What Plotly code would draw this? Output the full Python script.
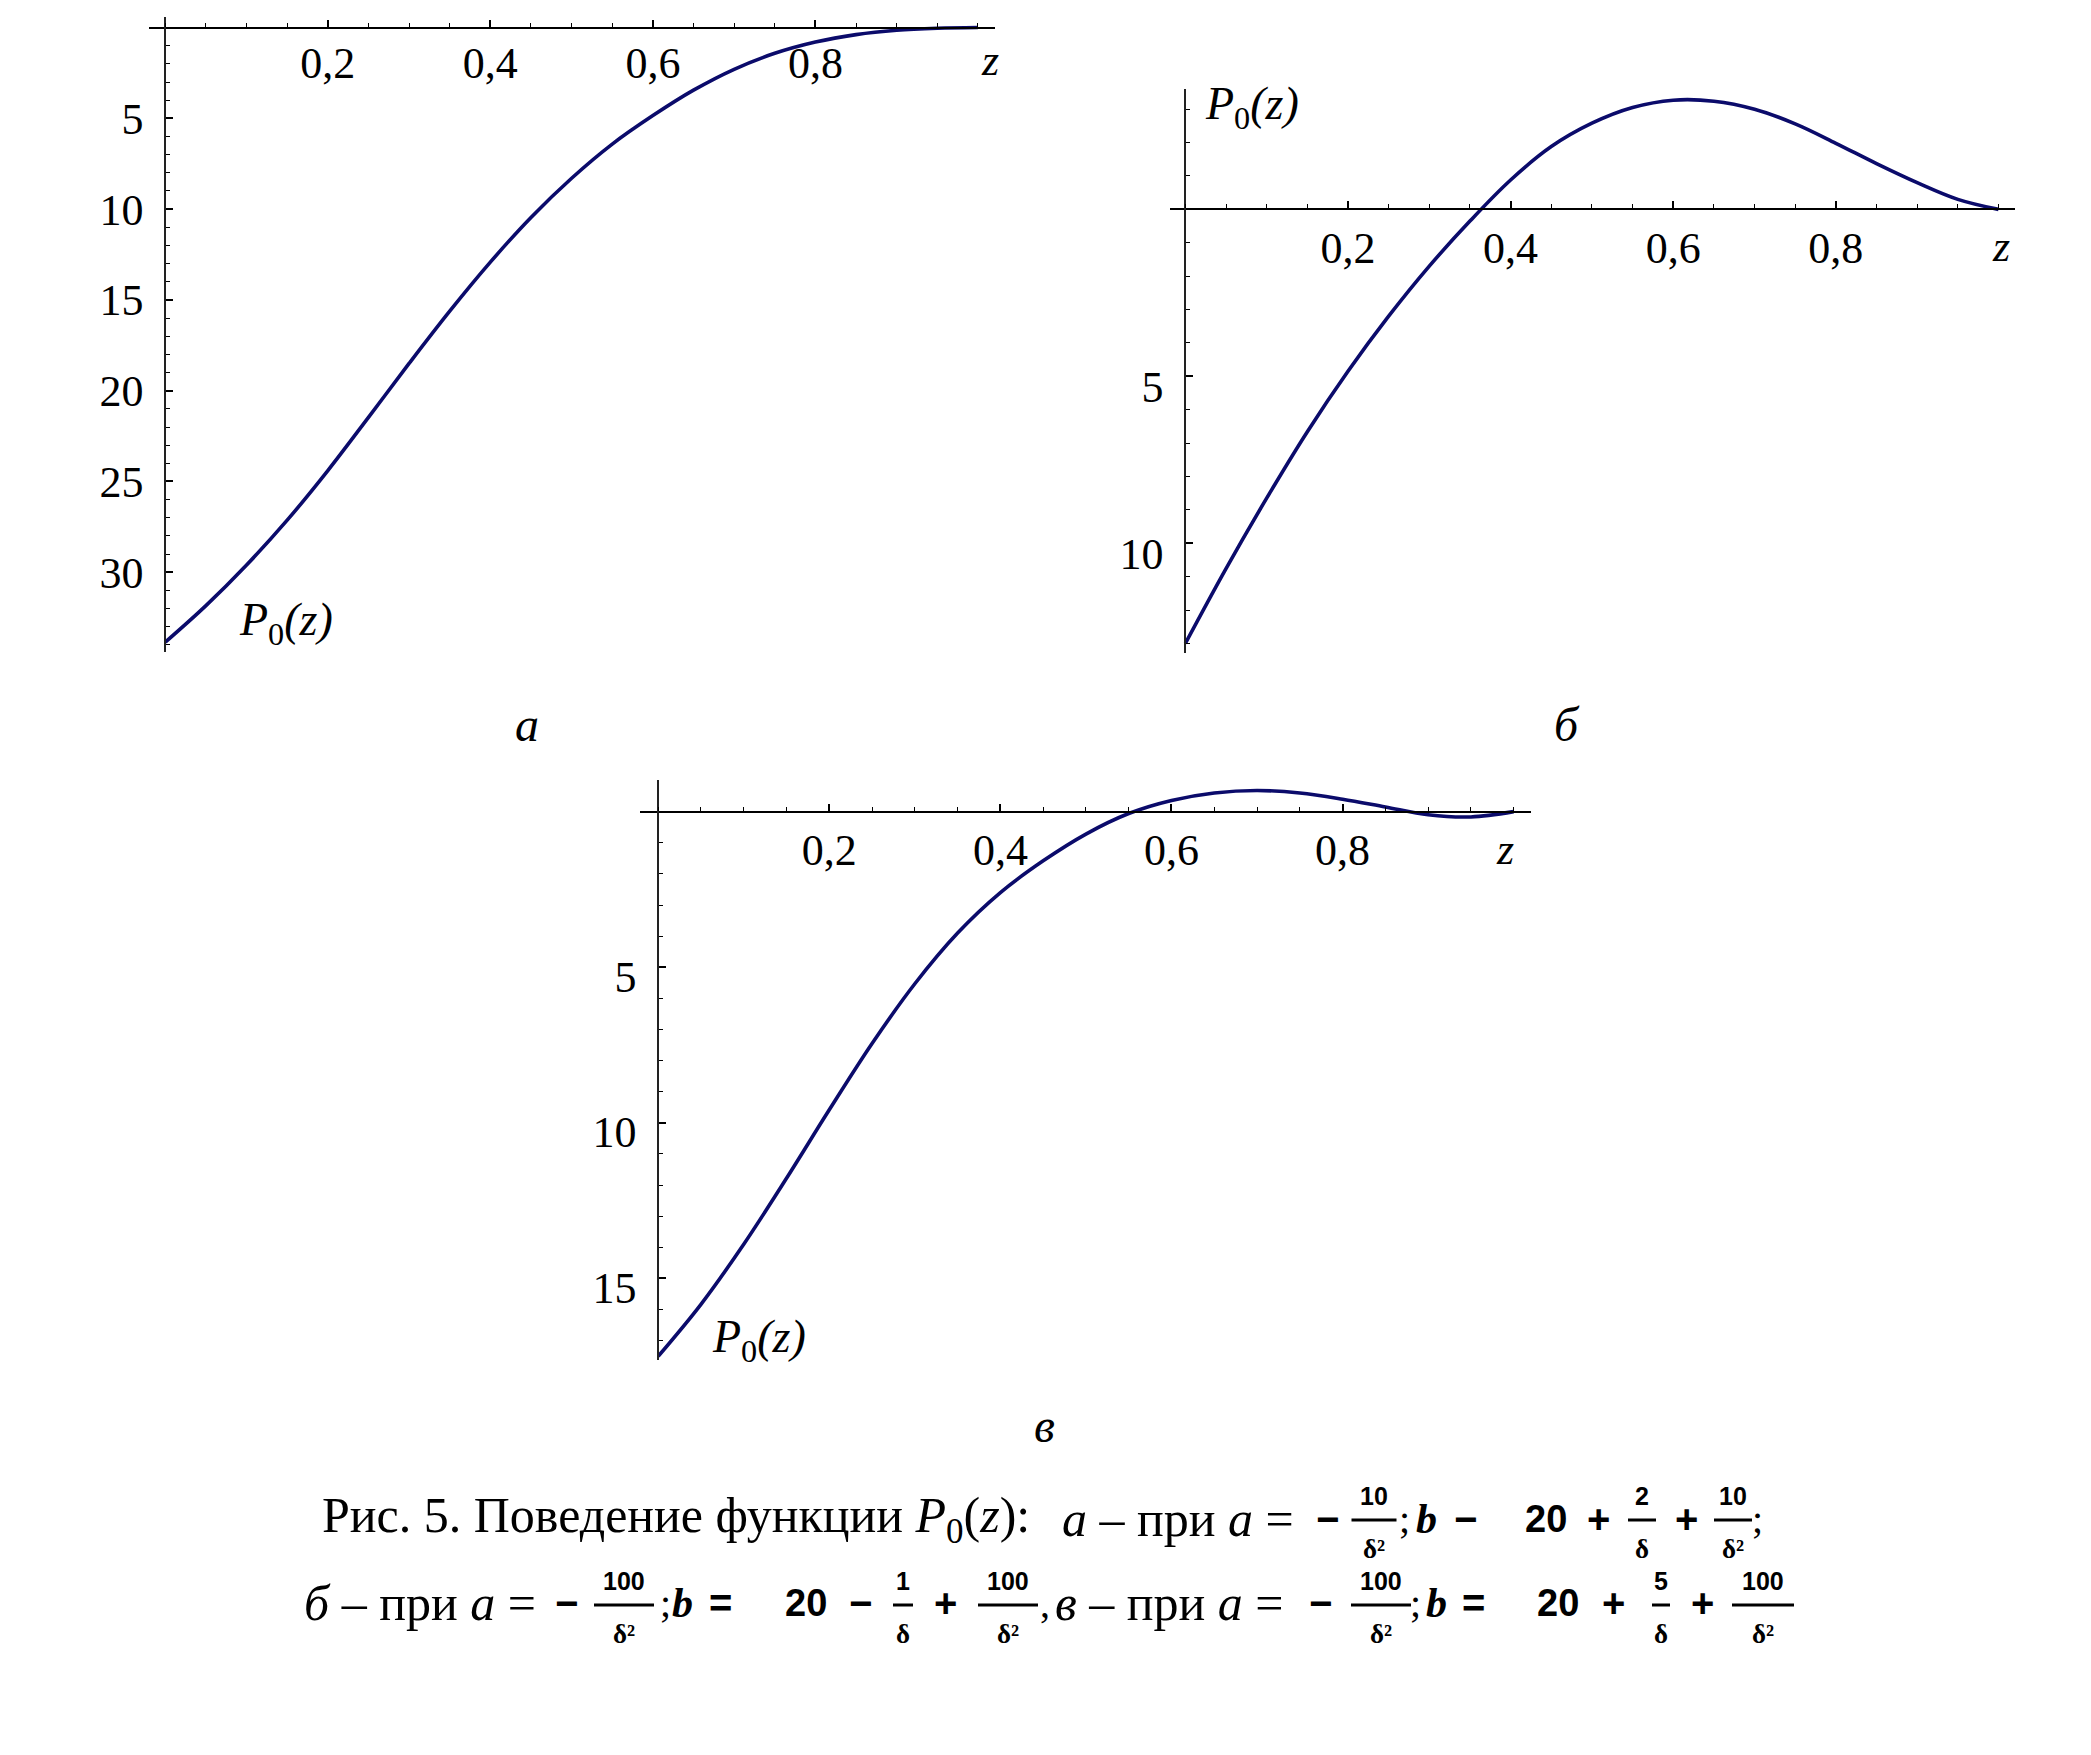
import plotly.graph_objects as go

# ---------------- data ----------------
z_vals = [0.0, 0.05, 0.1, 0.15, 0.2, 0.25, 0.3, 0.35, 0.4, 0.45, 0.5,
          0.55, 0.6, 0.65, 0.7, 0.75, 0.8, 0.85, 0.9, 0.95, 1.0]
p_a = [-33.85, -31.84, -29.60, -27.13, -24.40, -21.47, -18.50, -15.62, -12.92, -10.46, -8.30,
       -6.42, -4.85, -3.45, -2.30, -1.42, -0.80, -0.39, -0.15, -0.04, 0.0]
p_b = [-13.0, -10.76, -8.65, -6.66, -4.85, -3.20, -1.70, -0.35, 0.88, 1.88, 2.58,
       3.05, 3.27, 3.24, 3.0, 2.56, 1.98, 1.37, 0.8, 0.3, 0.0]
p_c = [-17.5, -15.83, -13.90, -11.78, -9.58, -7.45, -5.53, -3.90, -2.60, -1.58, -0.72,
       -0.06, 0.36, 0.60, 0.68, 0.60, 0.40, 0.15, -0.10, -0.17, 0.0]

x_tick_vals = [0.2, 0.4, 0.6, 0.8]
x_tick_text = ["0,2", "0,4", "0,6", "0,8"]
y_ticks_a = [-5, -10, -15, -20, -25, -30]
y_ticks_b = [-5, -10]
y_ticks_c = [-5, -10, -15]

# ---------------- layout helpers ----------------
W, H = 2091, 1755
OFF = 8                      # default page body margin
FW, FH = W - 2 * OFF, H - 2 * OFF
SERIF = "Liberation Serif"
SANS = "Liberation Sans"
LINE_COLOR = "#0b0b6b"


def fx(p):
    return (p - OFF) / FW


def fy(p):
    return 1 - (p - OFF) / FH


panels = [
    dict(curve=p_a, yt=y_ticks_a, xpx=(149.3, 994.5), ypx=(17.0, 651.8),
         xr=(-0.0197, 1.0204), yr=(-34.38, 0.58), xstand=-3, yshift=0),
    dict(curve=p_b, yt=y_ticks_b, xpx=(1169.6, 2015.3), ypx=(88.5, 653.1),
         xr=(-0.0194, 1.0207), yr=(-13.29, 3.62), xstand=0, yshift=10),
    dict(curve=p_c, yt=y_ticks_c, xpx=(639.8, 1530.8), ypx=(779.6, 1360.0),
         xr=(-0.0215, 1.020), yr=(-17.62, 1.03), xstand=0, yshift=9),
]

fig = go.Figure()
layout = dict(
    width=FW, height=FH,
    margin=dict(l=0, r=0, t=0, b=0),
    paper_bgcolor="white", plot_bgcolor="white",
    showlegend=False,
)

for i, pn in enumerate(panels):
    n = "" if i == 0 else str(i + 1)
    dx = [fx(pn["xpx"][0]), fx(pn["xpx"][1])]
    dy = [fy(pn["ypx"][1]), fy(pn["ypx"][0])]
    xr, yr = pn["xr"], pn["yr"]
    pos_x_axis = dy[0] + (0 - yr[0]) / (yr[1] - yr[0]) * (dy[1] - dy[0])
    pos_y_axis = dx[0] + (0 - xr[0]) / (xr[1] - xr[0]) * (dx[1] - dx[0])
    fig.add_trace(go.Scatter(
        x=z_vals, y=pn["curve"], mode="lines",
        line=dict(color=LINE_COLOR, width=3.6, shape="spline", smoothing=1.0),
        xaxis="x" + n, yaxis="y" + n, hoverinfo="skip"))
    layout["xaxis" + n] = dict(
        domain=dx, range=list(xr), anchor="free", position=pos_x_axis,
        showgrid=False, zeroline=False, showline=True, linecolor="black", linewidth=2,
        tickmode="array", tickvals=x_tick_vals, ticktext=x_tick_text,
        ticks="inside", ticklen=7, tickwidth=1.5, tickcolor="black",
        minor=dict(dtick=0.05, tick0=0, ticks="inside", ticklen=4, tickwidth=1.2, tickcolor="black"),
        tickfont=dict(family=SERIF, size=44, color="black"),
        ticklabelstandoff=pn["xstand"], fixedrange=True,
    )
    layout["yaxis" + n] = dict(
        domain=dy, range=list(yr), anchor="free", position=pos_y_axis,
        showgrid=False, zeroline=False, showline=True, linecolor="#222222", linewidth=2,
        tickmode="array", tickvals=pn["yt"], ticktext=[str(-v) for v in pn["yt"]],
        ticks="inside", ticklen=7, tickwidth=1.5, tickcolor="black",
        minor=dict(dtick=1, tick0=0, ticks="inside", ticklen=4, tickwidth=1.2, tickcolor="black"),
        tickfont=dict(family=SERIF, size=44, color="black"),
        ticklabelstandoff=12, ticklabelshift=pn["yshift"], fixedrange=True,
    )

annotations = []
shapes = []


def txt(text, x, y, size=44, family=SERIF, anchor="center"):
    annotations.append(dict(text=text, x=fx(x), y=fy(y), xref="paper", yref="paper",
                            xanchor=anchor, yanchor="middle", showarrow=False,
                            font=dict(family=family, size=size, color="black")))


# axis labels
P0 = "<i>P</i><sub>0</sub><i>(z)</i>"
txt(P0, 286, 623, 46)
txt(P0, 1252, 107, 46)
txt(P0, 759, 1340, 46)
txt("<i>z</i>", 990, 61, 44)
txt("<i>z</i>", 2001, 246, 44)
txt("<i>z</i>", 1505, 849, 44)

# sub-figure letters
txt("<i>а</i>", 527, 724, 48)
txt("<i>б</i>", 1567, 724, 48)
txt("<i>в</i>", 1044, 1425, 48)


def frac(cx, cy, num, den, w, num_dy=-24, den_dy=29):
    txt("<b>" + num + "</b>", cx, cy + num_dy, 25, SANS)
    txt("<b>" + den + "</b>", cx, cy + den_dy, 27, SERIF)
    shapes.append(dict(type="line", xref="paper", yref="paper",
                       x0=fx(cx - w / 2), x1=fx(cx + w / 2), y0=fy(cy), y1=fy(cy),
                       line=dict(color="black", width=3)))


# caption line 1
L1 = 1519
txt("Рис. 5. Поведение функции <i>P</i><sub>0</sub>(<i>z</i>):", 320, L1, 50, SERIF, "left")
txt("<i>а</i> – при <i>a</i> =", 1060, L1, 50, SERIF, "left")
txt("<b>−</b>", 1327, L1, 40, SANS)
frac(1374, 1520, "10", "δ²", 45)
txt(";", 1404, L1, 40, SERIF)
txt("<i><b>b</b></i>", 1426, L1, 42, SERIF)
txt("<b>−</b>", 1465, L1, 40, SANS)
txt("<b>20</b>", 1546, L1, 38, SANS)
txt("<b>+</b>", 1598, L1, 40, SANS)
frac(1642, 1520, "2", "δ", 28)
txt("<b>+</b>", 1686, L1, 40, SANS)
frac(1733, 1520, "10", "δ²", 38)
txt(";", 1757, L1, 40, SERIF)

# caption line 2
L2 = 1603
txt("<i>б</i> – при <i>a</i> =", 302, L2, 50, SERIF, "left")
txt("<b>−</b>", 566, L2, 40, SANS)
frac(624, 1605, "100", "δ²", 60)
txt(";", 665, L2, 40, SERIF)
txt("<i><b>b</b></i>", 682, L2, 42, SERIF)
txt("<b>=</b>", 720, L2, 40, SANS)
txt("<b>20</b>", 806, L2, 38, SANS)
txt("<b>−</b>", 860, L2, 40, SANS)
frac(903, 1605, "1", "δ", 20)
txt("<b>+</b>", 945, L2, 40, SANS)
frac(1008, 1605, "100", "δ²", 60)
txt(",", 1045, L2, 40, SERIF)
txt("<i>в</i> – при <i>a</i> =", 1053, L2, 50, SERIF, "left")
txt("<b>−</b>", 1320, L2, 40, SANS)
frac(1381, 1605, "100", "δ²", 60)
txt(";", 1415, L2, 40, SERIF)
txt("<i><b>b</b></i>", 1436, L2, 42, SERIF)
txt("<b>=</b>", 1473, L2, 40, SANS)
txt("<b>20</b>", 1558, L2, 38, SANS)
txt("<b>+</b>", 1613, L2, 40, SANS)
frac(1661, 1605, "5", "δ", 18)
txt("<b>+</b>", 1702, L2, 40, SANS)
frac(1763, 1605, "100", "δ²", 62)

layout["annotations"] = annotations
layout["shapes"] = shapes
fig.update_layout(**layout)
fig.write_html("out.html")
